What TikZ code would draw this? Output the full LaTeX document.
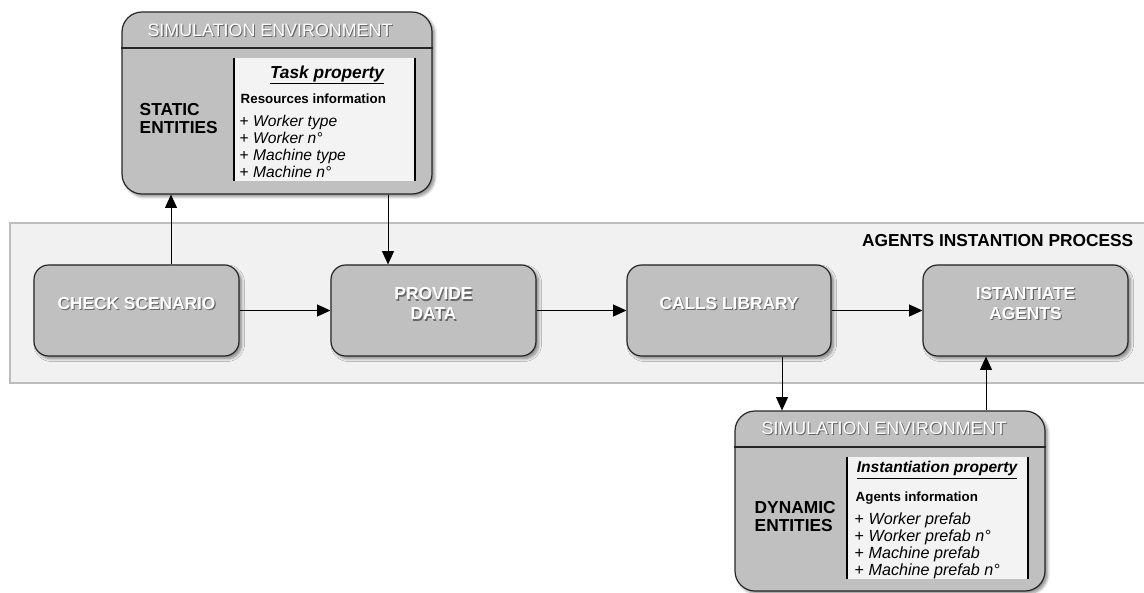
\documentclass[tikz,border=0pt]{standalone}
\usepackage{fontspec}
\setmainfont{Liberation Sans}
\usetikzlibrary{arrows.meta,fit,shadows.blur}

\definecolor{boxgray}{HTML}{C0C0C0}
\definecolor{procfill}{HTML}{F1F1F1}
\definecolor{procline}{HTML}{BDBDBD}
\definecolor{panelfill}{HTML}{F3F3F3}

% white lettering with a soft dark offset copy beneath it
\newcommand\shtxt[1]{\leavevmode\rlap{\raisebox{-0.8pt}{\hspace{0.8pt}\textcolor{black!60}{#1}}}#1}

\begin{document}
\begin{tikzpicture}[x=0.75pt,y=-0.75pt,
  shade box/.style={blur shadow={shadow xshift=2pt,shadow yshift=-2pt,shadow blur steps=6,shadow opacity=45}},
  stepbox/.style={shade box,draw=black!85,line width=0.9pt,fill=boxgray,rounded corners=11pt,
    inner sep=0pt,text=white,align=center,font=\fontsize{13}{15}\selectfont\bfseries},
  envbox/.style={shade box,draw=black!85,line width=0.9pt,fill=boxgray,rounded corners=15pt,inner sep=0pt},
  panel/.style={fill=panelfill,inner sep=0pt},
  panelside/.style={line width=1.6pt,black},
  envtitle/.style={text=white,font=\fontsize{13.4}{15}\selectfont},
  entlabel/.style={anchor=west,align=left,font=\fontsize{13}{13.5}\selectfont\bfseries},
  proptitle/.style={font=\fontsize{13}{15}\selectfont\bfseries\itshape},
  infolabel/.style={anchor=west,font=\fontsize{10}{12}\selectfont\bfseries},
  itemlist/.style={anchor=west,align=left,font=\fontsize{11.7}{12.75}\selectfont},
  arr/.style={-{Triangle[length=10pt,width=9pt]},line width=0.75pt},
]
\useasboundingbox (0,0) rectangle (1144,592);

% process band
\draw[fill=procfill,draw=procline,line width=1.5pt] (10,223) rectangle (1150,383);
\node[anchor=east,font=\fontsize{13}{15}\selectfont\bfseries] (proclabel) at (1138,241) {AGENTS INSTANTION PROCESS};

% process steps
\node[stepbox,fit={(34,265) (239,356)}] (check) {\shtxt{CHECK SCENARIO}};
\node[stepbox,fit={(331,265) (536,356)}] (provide) {\shtxt{PROVIDE}\\\shtxt{DATA}};
\node[stepbox,fit={(627,265) (831,356)}] (calls) {\shtxt{CALLS LIBRARY}};
\node[stepbox,fit={(923,265) (1128,356)}] (ist) {\shtxt{ISTANTIATE}\\\shtxt{AGENTS}};

% static simulation environment
\node[envbox,fit={(122,12) (432,194)}] (simA) {};
\draw[line width=0.9pt,black!85] (simA.west |- 0,48) -- (simA.east |- 0,48);
\node[envtitle] (simAtitle) at (270,31) {\shtxt{SIMULATION ENVIRONMENT}};
\node[panel,fit={(234,58) (415,181)}] (taskpanel) {};
\draw[panelside] (taskpanel.north west) -- (taskpanel.south west);
\draw[panelside] (taskpanel.north east) -- (taskpanel.south east);
\node[entlabel] (static) at (135,119) {STATIC\\ENTITIES};
\node[proptitle] (taskprop) at (327,75) {\underline{Task property}};
\node[infolabel] (resinfo) at (236,99) {Resources information};
\node[itemlist] (reslist) at (235,146) {+ \textit{Worker type}\\+ \textit{Worker n°}\\+ \textit{Machine type}\\+ \textit{Machine n°}};

% dynamic simulation environment
\node[envbox,fit={(735,411) (1045,591)}] (simB) {};
\draw[line width=0.9pt,black!85] (simB.west |- 0,447) -- (simB.east |- 0,447);
\node[envtitle] (simBtitle) at (884,429) {\shtxt{SIMULATION ENVIRONMENT}};
\node[panel,fit={(847,457) (1028,579)}] (instpanel) {};
\draw[panelside] (instpanel.north west) -- (instpanel.south west);
\draw[panelside] (instpanel.north east) -- (instpanel.south east);
\node[entlabel] (dynamic) at (750,517) {DYNAMIC\\ENTITIES};
\node[proptitle,font=\fontsize{11.7}{14}\selectfont\bfseries\itshape] (instprop) at (937,470) {\underline{Instantiation property}};
\node[infolabel] (aginfo) at (851,498) {Agents information};
\node[itemlist,font=\fontsize{12.1}{12.9}\selectfont] (aglist) at (850,546) {+ \textit{Worker prefab}\\+ \textit{Worker prefab n°}\\+ \textit{Machine prefab}\\+ \textit{Machine prefab n°}};

% connectors
\coordinate (x1) at (171,0);
\coordinate (x2) at (388,0);
\coordinate (x3) at (782,0);
\coordinate (x4) at (986,0);
\draw[arr] (check) -- (provide);
\draw[arr] (provide) -- (calls);
\draw[arr] (calls) -- (ist);
\draw[arr] (check.north -| x1) -- (simA.south -| x1);
\draw[arr] (simA.south -| x2) -- (provide.north -| x2);
\draw[arr] (calls.south -| x3) -- (simB.north -| x3);
\draw[arr] (simB.north -| x4) -- (ist.south -| x4);
\end{tikzpicture}
\end{document}
